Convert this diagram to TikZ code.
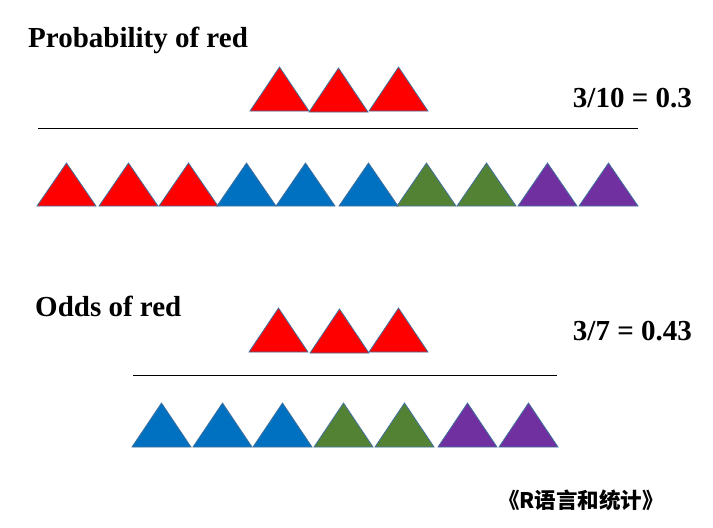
\documentclass[tikz,border=0pt]{standalone}
\usepackage{fontspec}
\setmainfont{Liberation Serif}
\newfontfamily\cjk{Noto Sans CJK SC}
\definecolor{tred}{HTML}{FF0000}
\definecolor{tblue}{HTML}{0070C0}
\definecolor{tgreen}{HTML}{548235}
\definecolor{tpurple}{HTML}{7030A0}
\definecolor{tedge}{HTML}{41719C}
\tikzset{
	tri/.style={draw=tedge,line width=0.8pt,line join=miter},
	headline/.style={font=\fontsize{29}{34}\selectfont\bfseries,anchor=base west,inner sep=0pt},
	ratio/.style={font=\fontsize{29}{34}\selectfont\bfseries,anchor=base east,inner sep=0pt}
}
\begin{document}
\begin{tikzpicture}[x=1pt,y=-1pt]
	\useasboundingbox (0,0) rectangle (713,528);
	% headings
	\node[headline] (probtitle) at (28,47) {Probability of red};
	\node[headline] (oddstitle) at (35,316) {Odds of red};
	% results
	\node[ratio] (probvalue) at (692,107) {3/10 = 0.3};
	\node[ratio] (oddsvalue) at (692,340) {3/7 = 0.43};
	% probability: numerator
	\foreach \x/\y in {250/111,309/112,369/111}
		\filldraw[tri,fill=tred] (\x,\y) -- ++(59,0) -- ++(-29.5,-44) -- cycle;
	% probability: fraction bar
	\draw[line width=0.8pt] (38,128) -- (638,128);
	% probability: denominator
	\foreach \x/\c in {37/tred,99/tred,159/tred,217/tblue,276/tblue,339/tblue,397/tgreen,457/tgreen,518/tpurple,579/tpurple}
		\filldraw[tri,fill=\c] (\x,206) -- ++(59,0) -- ++(-29.5,-43) -- cycle;
	% odds: numerator
	\foreach \x/\y in {249/352,310/353,369/352}
		\filldraw[tri,fill=tred] (\x,\y) -- ++(59,0) -- ++(-29.5,-44) -- cycle;
	% odds: fraction bar
	\draw[line width=0.8pt] (133,375) -- (557,375);
	% odds: denominator
	\foreach \x/\c in {132/tblue,193/tblue,253/tblue,314/tgreen,375/tgreen,438/tpurple,499/tpurple}
		\filldraw[tri,fill=\c] (\x,447) -- ++(59,0) -- ++(-29.5,-44) -- cycle;
	% watermark
	\node[font=\cjk\bfseries\fontsize{21.5}{26}\selectfont,anchor=west,inner sep=0pt] (mark) at (498,500) {《R语言和统计》};
\end{tikzpicture}
\end{document}
